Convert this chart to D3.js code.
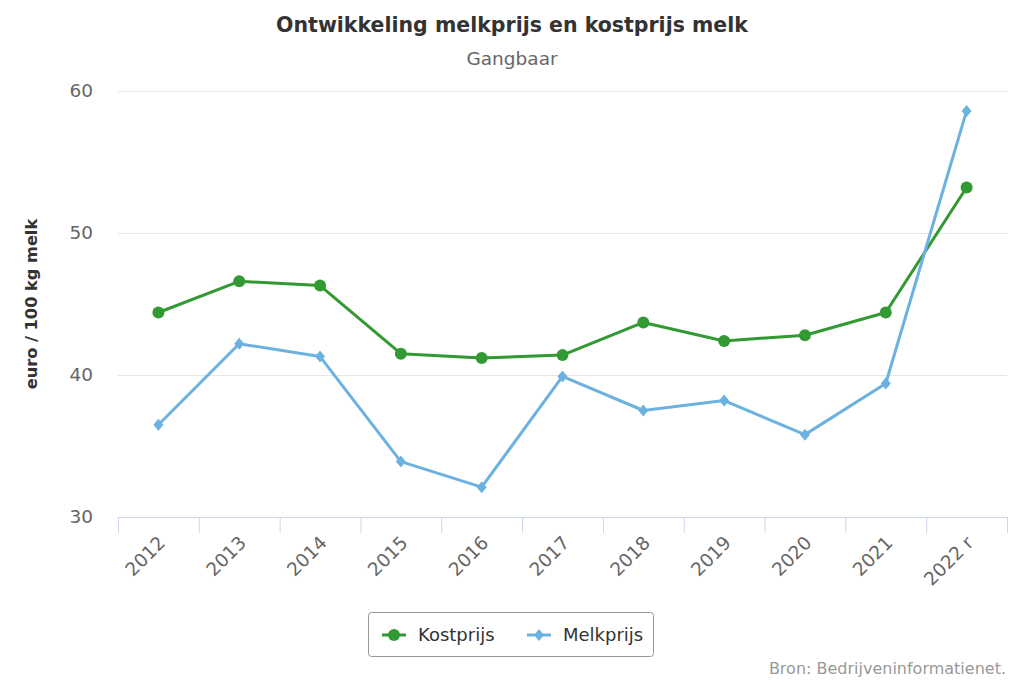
<!DOCTYPE html>
<html><head><meta charset="utf-8">
<script src="https://cdn.jsdelivr.net/npm/d3@7"></script>
<style>body{margin:0;background:#fff;}svg{display:block;font-family:"DejaVu Sans",sans-serif;}</style>
</head><body>
<svg id="c" width="1024" height="683"></svg>
<script>
const categories = ["2012","2013","2014","2015","2016","2017","2018","2019","2020","2021","2022 r"];
const kostprijs = [44.4, 46.6, 46.3, 41.5, 41.2, 41.4, 43.7, 42.4, 42.8, 44.4, 53.2];
const melkprijs = [36.5, 42.2, 41.3, 33.9, 32.1, 39.9, 37.5, 38.2, 35.8, 39.4, 58.6];
const yTicks = [30, 40, 50, 60];
const seriesNames = ["Kostprijs", "Melkprijs"];
const colors = ["#339933", "#6cb2e0"];

const svg = d3.select("#c");
const L = 118, R = 1007, T = 91, B = 517;
const x = d3.scaleBand().domain(categories).range([L, R]);
const y = d3.scaleLinear().domain([30, 60]).range([B, T]);

// title
svg.append("text").attr("x", 512).attr("y", 32).attr("text-anchor", "middle")
  .attr("font-size", 20.5).attr("font-weight", "bold").attr("fill", "#333")
  .text("Ontwikkeling melkprijs en kostprijs melk");
svg.append("text").attr("x", 512).attr("y", 65).attr("text-anchor", "middle")
  .attr("font-size", 18.5).attr("fill", "#666").text("Gangbaar");

// grid
const gy = svg.append("g").attr("transform", `translate(${L},0)`)
  .call(d3.axisLeft(y).tickValues(yTicks).tickSize(-(R - L)).tickPadding(25));
gy.select(".domain").remove();
gy.selectAll(".tick line").attr("stroke", "#e6e6e6");
gy.selectAll(".tick text").attr("font-size", 18.5).attr("fill", "#666")
  .attr("font-family", "DejaVu Sans, sans-serif");

// y title
svg.append("text").attr("transform", `translate(37,${(T + B) / 2}) rotate(-90)`)
  .attr("text-anchor", "middle").attr("font-size", 16.2).attr("font-weight", "bold")
  .attr("fill", "#333").text("euro / 100 kg melk");

// x axis
const gx = svg.append("g").attr("transform", `translate(0,${B})`)
  .call(d3.axisBottom(x).tickSize(0).tickSizeOuter(0));
gx.select(".domain").attr("stroke", "#ccd6eb");
const bounds = categories.map(c => x(c)).concat([R]);
gx.selectAll(".bt").data(bounds).enter().append("line")
  .attr("x1", d => d + 0.5).attr("x2", d => d + 0.5).attr("y1", 0).attr("y2", 16)
  .attr("stroke", "#ccd6eb");
gx.selectAll(".tick text").attr("font-size", 18.5).attr("fill", "#666")
  .attr("font-family", "DejaVu Sans, sans-serif")
  .attr("text-anchor", "end").attr("dy", null).attr("y", 0)
  .attr("transform", "translate(8,27) rotate(-45)");

// series
const data = [kostprijs, melkprijs];
data.forEach((vals, i) => {
  const pts = vals.map((v, j) => [x(categories[j]) + x.bandwidth() / 2, y(v)]);
  svg.append("path").attr("d", d3.line()(pts)).attr("fill", "none")
    .attr("stroke", colors[i]).attr("stroke-width", 3).attr("stroke-linejoin", "round");
  if (i === 0) {
    svg.selectAll(".m0").data(pts).enter().append("circle")
      .attr("cx", d => d[0]).attr("cy", d => d[1]).attr("r", 6).attr("fill", colors[i]);
  } else {
    svg.selectAll(".m1").data(pts).enter().append("path")
      .attr("d", d => `M${d[0]},${d[1] - 6}L${d[0] + 5},${d[1]}L${d[0]},${d[1] + 6}L${d[0] - 5},${d[1]}Z`)
      .attr("fill", colors[i]);
  }
});

// legend
const lg = svg.append("g");
lg.append("rect").attr("x", 368.5).attr("y", 612.5).attr("width", 285).attr("height", 44)
  .attr("rx", 3).attr("fill", "#fff").attr("stroke", "#999");
const items = [{x: 382, tx: 418}, {x: 527, tx: 563}];
items.forEach((it, i) => {
  lg.append("line").attr("x1", it.x).attr("x2", it.x + 24).attr("y1", 635).attr("y2", 635)
    .attr("stroke", colors[i]).attr("stroke-width", 3);
  if (i === 0) lg.append("circle").attr("cx", it.x + 12).attr("cy", 635).attr("r", 6).attr("fill", colors[i]);
  else lg.append("path").attr("d", `M${it.x + 12},629L${it.x + 17},635L${it.x + 12},641L${it.x + 7},635Z`).attr("fill", colors[i]);
  lg.append("text").attr("x", it.tx).attr("y", 641).attr("font-size", 18).attr("fill", "#333")
    .text(seriesNames[i]);
});

// credits
svg.append("text").attr("x", 1006).attr("y", 674).attr("text-anchor", "end")
  .attr("font-size", 16).attr("fill", "#999").text("Bron: Bedrijveninformatienet.");
</script>
</body></html>
